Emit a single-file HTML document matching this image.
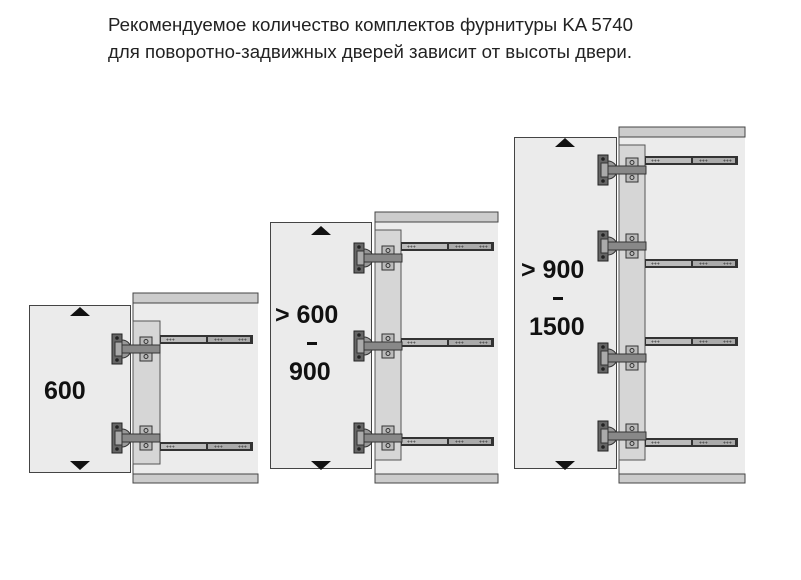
<!DOCTYPE html>
<html><head><meta charset="utf-8"><style>
html,body{margin:0;padding:0;background:#fff;width:801px;height:580px;overflow:hidden}
svg{display:block}
.t{font-family:"Liberation Sans",sans-serif;font-weight:bold;font-size:25px;fill:#111}
.h{font-family:"Liberation Sans",sans-serif;font-size:18px;fill:#222}
</style></head><body>
<svg width="801" height="580" viewBox="0 0 801 580" xmlns="http://www.w3.org/2000/svg">
<defs>
<g id="hinge">
<rect x="0" y="-15" width="10" height="30" fill="#666" stroke="#222"/>
<circle cx="5" cy="-11" r="1.8" fill="#222"/><circle cx="5" cy="11" r="1.8" fill="#222"/>
<path d="M10,-9 A9,9 0 0 1 10,9 Z" fill="#999" stroke="#333"/>
<rect x="3" y="-7" width="7" height="14" fill="#aaa" stroke="#333"/>
<rect x="28" y="-12" width="12" height="24" fill="#bbb" stroke="#333"/>
<circle cx="34" cy="-7.5" r="2" fill="none" stroke="#333"/><circle cx="34" cy="7.5" r="2" fill="none" stroke="#333"/>
<rect x="10" y="-4" width="38" height="8" fill="#888" stroke="#333"/>
</g>
<g id="rail">
<rect x="0" y="0" width="93" height="9" fill="#333"/>
<rect x="1" y="2" width="45" height="5" fill="#bbb"/>
<rect x="48" y="2" width="42" height="5" fill="#aaa"/>
<text x="6" y="6.5" font-size="5" fill="#333" font-family="Liberation Sans,sans-serif">+++</text>
<text x="54" y="6.5" font-size="5" fill="#333" font-family="Liberation Sans,sans-serif">+++</text>
<text x="78" y="6.5" font-size="5" fill="#333" font-family="Liberation Sans,sans-serif">+++</text>
</g>
</defs>
<text class="h" x="108" y="31" textLength="525" lengthAdjust="spacingAndGlyphs">Рекомендуемое количество комплектов фурнитуры KA 5740</text>
<text class="h" x="108" y="58" textLength="524" lengthAdjust="spacingAndGlyphs">для поворотно-задвижных дверей зависит от высоты двери.</text>

<!-- Diagram 1 -->
<rect x="133" y="293" width="125" height="190" fill="#ececec"/>
<rect x="133" y="293" width="125" height="10" fill="#ccc" stroke="#444"/>
<rect x="133" y="474" width="125" height="9" fill="#ccc" stroke="#444"/>
<line x1="133" y1="293" x2="133" y2="483" stroke="#444"/>
<rect x="133" y="321" width="27" height="143" fill="#d6d6d6" stroke="#555"/>
<rect x="29.5" y="305.5" width="101" height="167" fill="#ebebeb" stroke="#444"/>
<path d="M70,316 L80,307 L90,316 Z" fill="#111"/>
<path d="M70,461 L80,470 L90,461 Z" fill="#111"/>
<text class="t" x="44" y="399">600</text>
<use href="#rail" x="160" y="335"/>
<use href="#rail" x="160" y="442"/>
<use href="#hinge" x="112" y="349"/>
<use href="#hinge" x="112" y="438"/>

<!-- Diagram 2 -->
<rect x="375" y="212" width="123" height="271" fill="#ececec"/>
<rect x="375" y="212" width="123" height="10" fill="#ccc" stroke="#444"/>
<rect x="375" y="474" width="123" height="9" fill="#ccc" stroke="#444"/>
<line x1="375" y1="212" x2="375" y2="483" stroke="#444"/>
<rect x="375" y="230" width="26" height="230" fill="#d6d6d6" stroke="#555"/>
<rect x="270.5" y="222.5" width="101" height="246" fill="#ebebeb" stroke="#444"/>
<path d="M311,235 L321,226 L331,235 Z" fill="#111"/>
<path d="M311,461 L321,470 L331,461 Z" fill="#111"/>
<text class="t" x="275" y="323">&gt; 600</text>
<rect x="307" y="342" width="10" height="3" fill="#111"/>
<text class="t" x="289" y="380">900</text>
<use href="#rail" x="401" y="242"/>
<use href="#rail" x="401" y="338"/>
<use href="#rail" x="401" y="437"/>
<use href="#hinge" x="354" y="258"/>
<use href="#hinge" x="354" y="346"/>
<use href="#hinge" x="354" y="438"/>

<!-- Diagram 3 -->
<rect x="619" y="127" width="126" height="356" fill="#ececec"/>
<rect x="619" y="127" width="126" height="10" fill="#ccc" stroke="#444"/>
<rect x="619" y="474" width="126" height="9" fill="#ccc" stroke="#444"/>
<line x1="619" y1="127" x2="619" y2="483" stroke="#444"/>
<rect x="619" y="145" width="26" height="315" fill="#d6d6d6" stroke="#555"/>
<rect x="514.5" y="137.5" width="102" height="331" fill="#ebebeb" stroke="#444"/>
<path d="M555,147 L565,138 L575,147 Z" fill="#111"/>
<path d="M555,461 L565,470 L575,461 Z" fill="#111"/>
<text class="t" x="521" y="278">&gt; 900</text>
<rect x="553" y="297" width="10" height="3" fill="#111"/>
<text class="t" x="529" y="335">1500</text>
<use href="#rail" x="645" y="156"/>
<use href="#rail" x="645" y="259"/>
<use href="#rail" x="645" y="337"/>
<use href="#rail" x="645" y="438"/>
<use href="#hinge" x="598" y="170"/>
<use href="#hinge" x="598" y="246"/>
<use href="#hinge" x="598" y="358"/>
<use href="#hinge" x="598" y="436"/>
</svg>
</body></html>
